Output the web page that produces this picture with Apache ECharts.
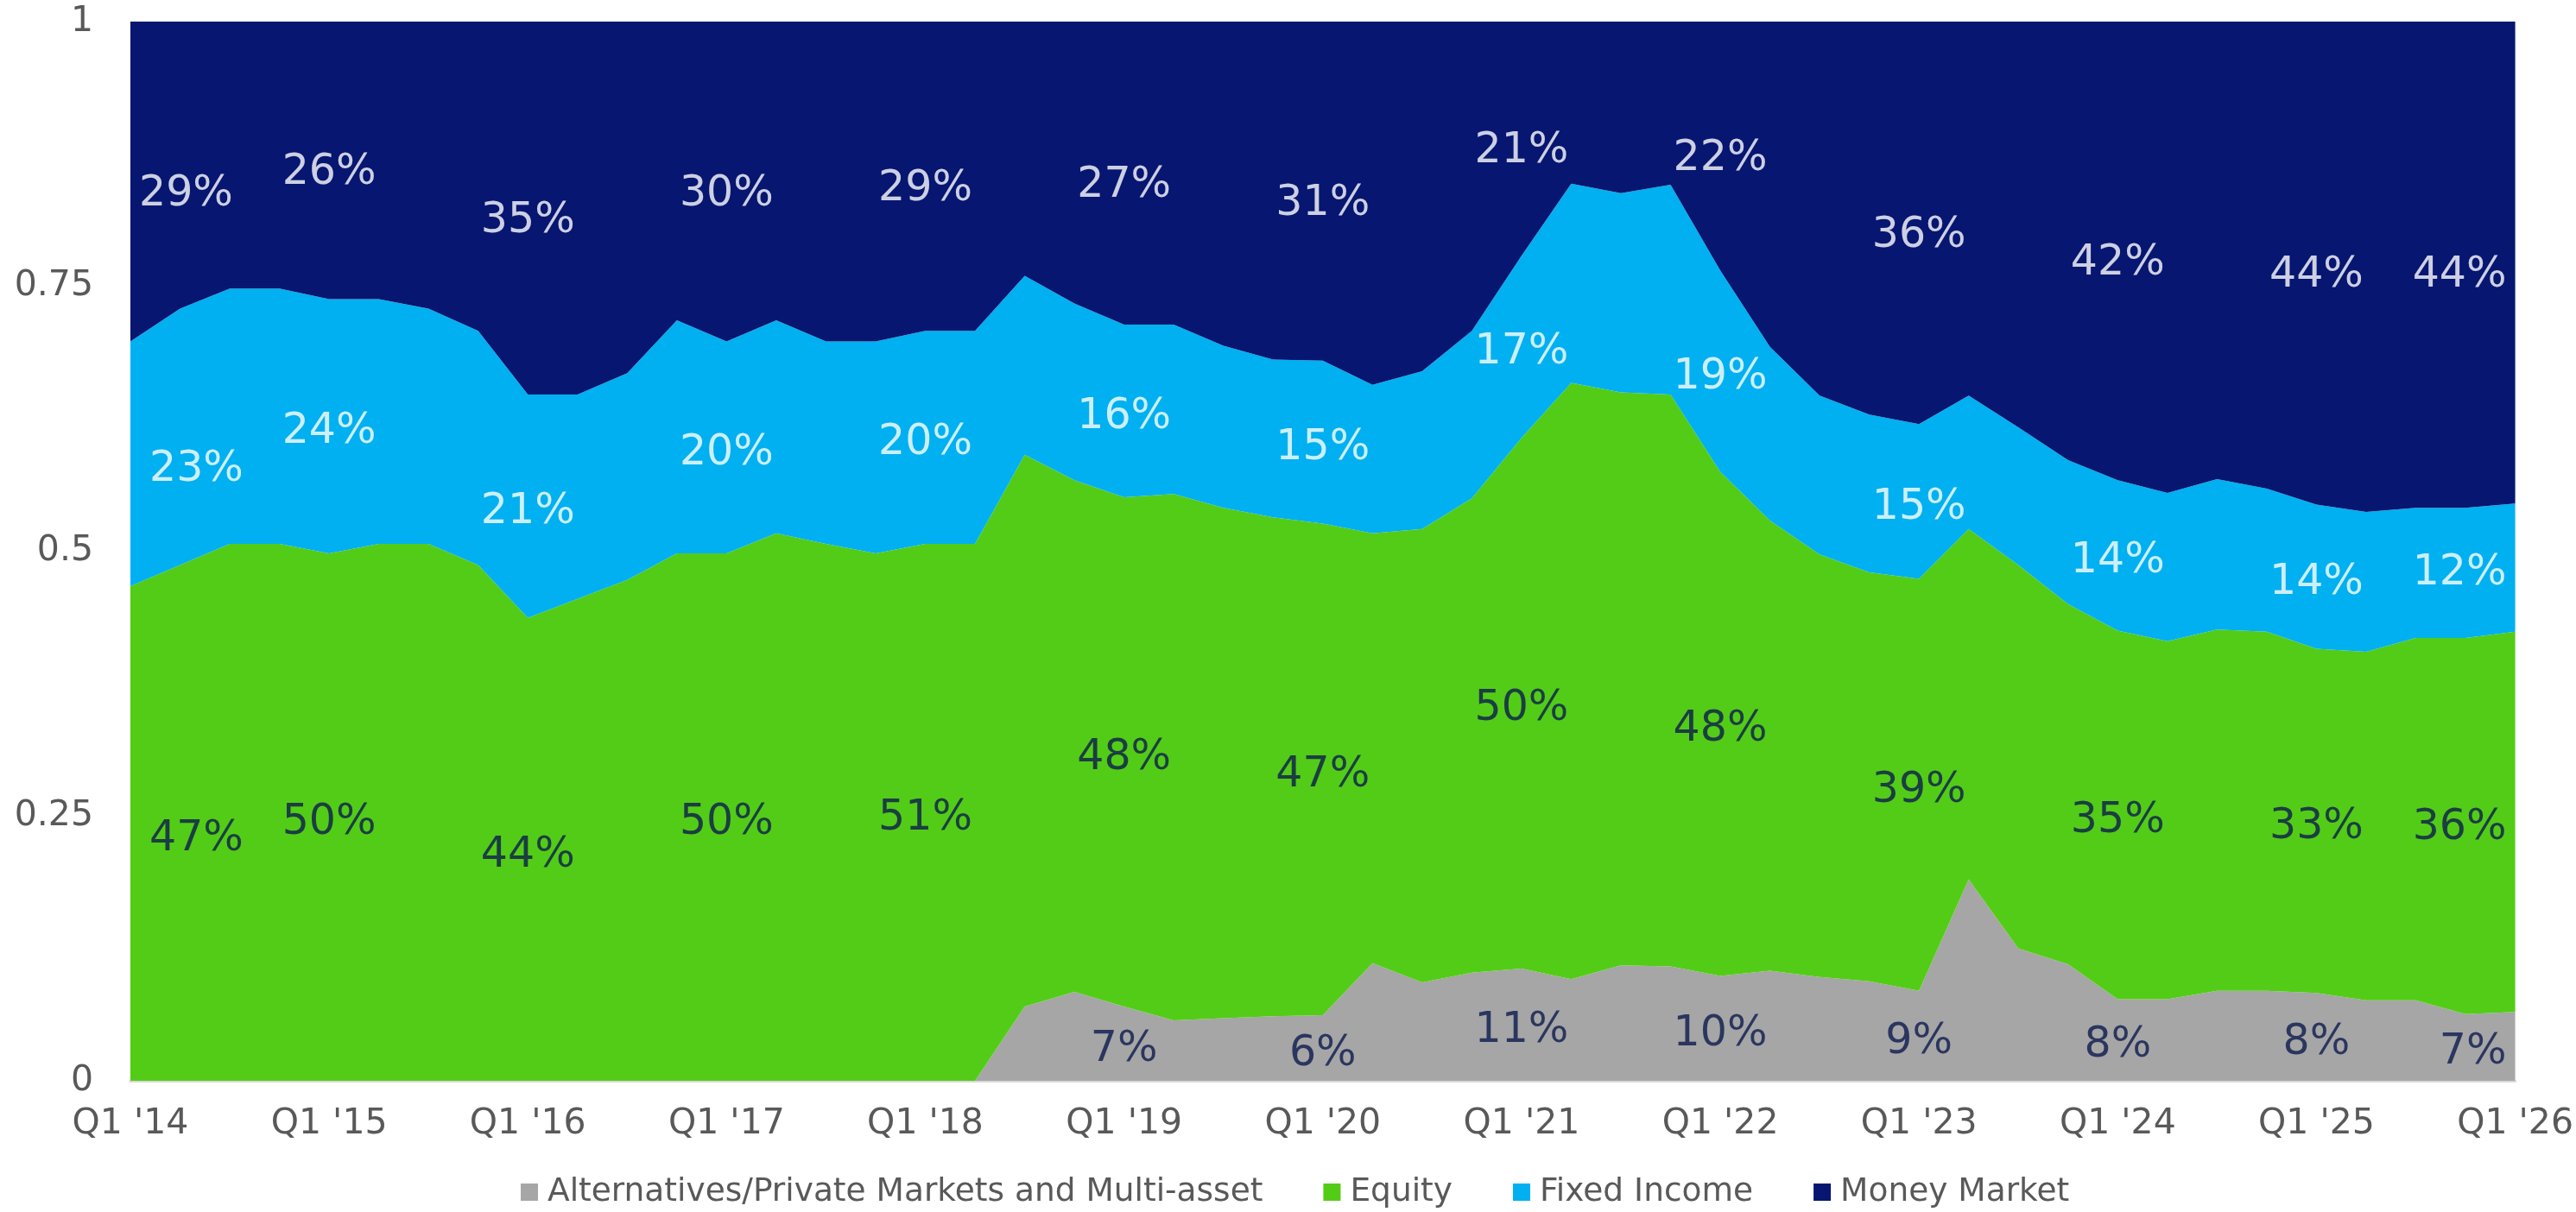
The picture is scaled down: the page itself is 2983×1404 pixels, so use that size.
<!DOCTYPE html>
<html>
<head>
<meta charset="utf-8">
<script src="https://cdn.jsdelivr.net/npm/echarts@6/dist/echarts.min.js"></script>
<style>
  html, body { margin: 0; padding: 0; background: #fff; }
  #chart { width: 2983px; height: 1404px; }
</style>
</head>
<body>
<div id="chart"></div>
<script>
// quarters Q1 '14 .. Q1 '26
const years = ['14', '15', '16', '17', '18', '19', '20', '21', '22', '23', '24', '25'];
const quarters = [];
years.forEach(y => { ['Q1', 'Q2', 'Q3', 'Q4'].forEach(q => quarters.push(q + " '" + y)); });
quarters.push("Q1 '26");

const seriesNames = ['Alternatives/Private Markets and Multi-asset', 'Equity', 'Fixed Income', 'Money Market'];
const colors = ['#a6a6a6', '#53cc17', '#00b0f0', '#061671'];

// shares per quarter
const alternatives = [0, 0, 0, 0, 0, 0, 0, 0, 0, 0, 0, 0, 0, 0, 0, 0, 0, 0,
  0.070, 0.084, 0.070, 0.057, 0.059, 0.061, 0.062, 0.111, 0.093, 0.102, 0.106, 0.096, 0.109, 0.108,
  0.099, 0.104, 0.098, 0.094, 0.085, 0.190, 0.125, 0.110, 0.077, 0.077, 0.085, 0.085, 0.083, 0.076, 0.076, 0.063, 0.065];
const equity = [0.467, 0.487, 0.507, 0.507, 0.498, 0.507, 0.507, 0.487, 0.437, 0.455, 0.473, 0.498, 0.498, 0.517, 0.507, 0.498,
  0.507, 0.507, 0.521, 0.483, 0.481, 0.497, 0.482, 0.471, 0.464, 0.406, 0.428, 0.448, 0.501, 0.563, 0.541, 0.540,
  0.476, 0.425, 0.399, 0.386, 0.389, 0.331, 0.362, 0.340, 0.348, 0.338, 0.341, 0.339, 0.325, 0.329, 0.342, 0.355, 0.359];
const fixedIncome = [0.231, 0.242, 0.241, 0.241, 0.240, 0.231, 0.222, 0.221, 0.211, 0.193, 0.195, 0.220, 0.200, 0.201, 0.191, 0.200,
  0.201, 0.201, 0.169, 0.167, 0.163, 0.160, 0.153, 0.149, 0.154, 0.140, 0.149, 0.158, 0.172, 0.188, 0.188, 0.198,
  0.190, 0.164, 0.150, 0.149, 0.146, 0.126, 0.130, 0.136, 0.142, 0.140, 0.142, 0.135, 0.136, 0.132, 0.123, 0.123, 0.121];
const moneyMarket = [0.302, 0.271, 0.252, 0.252, 0.262, 0.262, 0.271, 0.292, 0.352, 0.352, 0.332, 0.282, 0.302, 0.282, 0.302, 0.302,
  0.292, 0.292, 0.240, 0.266, 0.286, 0.286, 0.306, 0.319, 0.320, 0.343, 0.330, 0.292, 0.221, 0.153, 0.162, 0.154,
  0.235, 0.307, 0.353, 0.371, 0.380, 0.353, 0.383, 0.414, 0.433, 0.445, 0.432, 0.441, 0.456, 0.463, 0.459, 0.459, 0.455];

// printed labels at each Q1 (%)
const altLabels = [null, null, null, null, null, 7, 6, 11, 10, 9, 8, 8, 7];
const eqLabels = [47, 50, 44, 50, 51, 48, 47, 50, 48, 39, 35, 33, 36];
const fiLabels = [23, 24, 21, 20, 20, 16, 15, 17, 19, 15, 14, 14, 12];
const mmLabels = [29, 26, 35, 30, 29, 27, 31, 21, 22, 36, 42, 44, 44];

const FONT = 'DejaVu Sans';
const seriesData = [alternatives, equity, fixedIncome, moneyMarket];
const labelSets = [altLabels, eqLabels, fiLabels, mmLabels];
const labelColors = ['#0c1a4e', '#0c1a4e', '#ffffff', '#ffffff'];

const areaSeries = seriesNames.map((name, s) => ({
  name: name,
  type: 'line',
  stack: 'total',
  symbol: 'none',
  lineStyle: { width: 0 },
  itemStyle: { color: colors[s] },
  areaStyle: { color: colors[s], opacity: 1 },
  data: seriesData[s]
}));

// label series, centred in each band
const labelSeries = labelSets.map((labels, s) => {
  const data = [];
  const dy = s === 3 ? 15 : 7;
  labels.forEach((txt, k) => {
    if (txt === null) return;
    const i = k * 4;
    let base = 0;
    for (let j = 0; j < s; j++) base += seriesData[j][i];
    const mid = base + seriesData[s][i] / 2;
    const item = { value: [i, mid], txt: txt + '%' };
    if (k === 0) item.label = { align: 'left', offset: [s === 3 ? 10 : 22, dy] };
    else if (k === labels.length - 1) item.label = { align: 'right', offset: [-10, dy] };
    else item.label = { offset: [0, dy] };
    data.push(item);
  });
  return {
    type: 'scatter',
    symbolSize: 0,
    silent: true,
    z: 5,
    label: {
      show: true,
      position: 'inside',
      fontFamily: FONT,
      fontSize: 49,
      color: labelColors[s],
      formatter: p => p.data.txt
    },
    data: data
  };
});

const chart = echarts.init(document.getElementById('chart'));
chart.setOption({
  animation: false,
  backgroundColor: '#ffffff',
  grid: { left: 151, right: 54, top: 25, bottom: 152, containLabel: false },
  legend: {
    data: seriesNames,
    left: 603,
    top: 1362,
    padding: 0,
    icon: 'rect',
    itemWidth: 20,
    itemHeight: 20,
    itemGap: 70,
    textStyle: { fontFamily: FONT, fontSize: 37.5, color: '#595959', padding: [0, 0, 0, 6] }
  },
  xAxis: {
    type: 'category',
    boundaryGap: false,
    data: quarters,
    axisLine: { show: true, lineStyle: { color: '#d9d9d9', width: 3 } },
    axisTick: { show: false },
    axisLabel: { interval: 3, margin: 30, fontFamily: FONT, fontSize: 41, color: '#595959' },
    splitLine: { show: false }
  },
  yAxis: {
    type: 'value',
    min: 0,
    max: 1,
    interval: 0.25,
    axisLine: { show: false },
    axisTick: { show: false },
    splitLine: { show: false },
    axisLabel: { margin: 43, fontFamily: FONT, fontSize: 41, color: '#595959' }
  },
  series: areaSeries.concat(labelSeries)
});
</script>
</body>
</html>
